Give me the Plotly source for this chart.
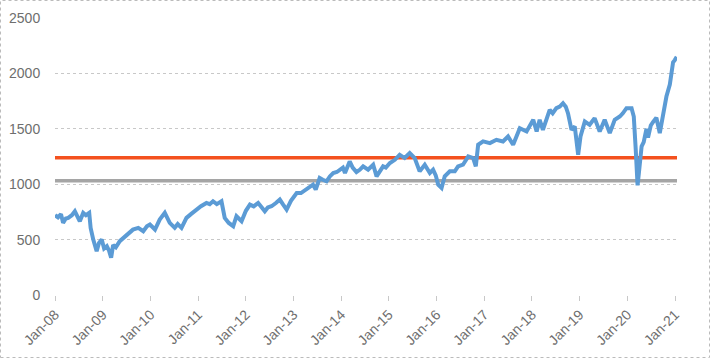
import plotly.graph_objects as go

dates = [
    "2008-01-01", "2008-01-24", "2008-02-16", "2008-03-03", "2008-03-24", "2008-04-11",
    "2008-05-09", "2008-06-01", "2008-06-24", "2008-07-09", "2008-08-04", "2008-08-25",
    "2008-09-19", "2008-09-30", "2008-10-20", "2008-11-02", "2008-11-15", "2008-12-03",
    "2008-12-24", "2009-01-11", "2009-02-01", "2009-02-18", "2009-03-06", "2009-03-21",
    "2009-04-11", "2009-05-11", "2009-06-11", "2009-07-14", "2009-08-20", "2009-09-30",
    "2009-11-07", "2009-12-05", "2009-12-28", "2010-02-05", "2010-03-13", "2010-04-21",
    "2010-05-29", "2010-07-06", "2010-07-29", "2010-08-27", "2010-10-04", "2010-11-07",
    "2010-12-20", "2011-01-23", "2011-03-06", "2011-03-31", "2011-04-25", "2011-05-24",
    "2011-06-29", "2011-07-24", "2011-08-24", "2011-09-27", "2011-10-22", "2011-11-30",
    "2012-01-02", "2012-02-02", "2012-03-02", "2012-04-05", "2012-05-03", "2012-05-26",
    "2012-06-18", "2012-07-16", "2012-08-19", "2012-09-18", "2012-10-11", "2012-11-09",
    "2012-12-12", "2013-01-25", "2013-02-27", "2013-04-10", "2013-05-05", "2013-05-30",
    "2013-06-20", "2013-07-20", "2013-08-13", "2013-09-11", "2013-10-06", "2013-11-01",
    "2013-11-29", "2013-12-22", "2014-01-14", "2014-01-30", "2014-02-21", "2014-03-07",
    "2014-03-30", "2014-04-28", "2014-05-23", "2014-06-18", "2014-07-26", "2014-09-03",
    "2014-09-29", "2014-10-24", "2014-11-18", "2014-12-09", "2015-01-09", "2015-02-16",
    "2015-03-25", "2015-05-02", "2015-06-10", "2015-07-18", "2015-08-25", "2015-10-03",
    "2015-11-11", "2015-12-06", "2015-12-26", "2016-01-14", "2016-02-09", "2016-03-04",
    "2016-04-12", "2016-05-20", "2016-06-14", "2016-07-22", "2016-08-31", "2016-10-08",
    "2016-10-28", "2016-11-15", "2016-12-23", "2017-02-13", "2017-04-04", "2017-05-24",
    "2017-07-02", "2017-08-10", "2017-09-08", "2017-09-30", "2017-11-21", "2018-01-11",
    "2018-02-06", "2018-03-01", "2018-03-26", "2018-04-24", "2018-05-17", "2018-06-09",
    "2018-07-07", "2018-08-02", "2018-08-27", "2018-09-17", "2018-10-04", "2018-10-31",
    "2018-11-25", "2018-12-21", "2019-01-08", "2019-02-10", "2019-03-19", "2019-04-26",
    "2019-06-04", "2019-07-12", "2019-08-20", "2019-09-27", "2019-11-05", "2019-11-28",
    "2019-12-26", "2020-02-03", "2020-02-20", "2020-03-06", "2020-03-20", "2020-03-30",
    "2020-04-08", "2020-04-20", "2020-05-06", "2020-05-27", "2020-06-08", "2020-06-29",
    "2020-07-16", "2020-08-11", "2020-09-06", "2020-10-01", "2020-10-27", "2020-11-22",
    "2020-12-17", "2020-12-30", "2021-01-14",
]

index_values = [
    720, 700, 730, 651, 690, 696,
    720, 756, 700, 666, 741, 720,
    741, 606, 500, 430, 396, 470,
    500, 420, 441, 400, 336, 450,
    430, 486, 520, 561, 590, 606,
    576, 620, 636, 591, 680, 741,
    651, 606, 640, 606, 696, 730,
    771, 801, 831, 820, 846, 820,
    846, 696, 650, 621, 711, 666,
    760, 816, 800, 831, 790, 756,
    790, 801, 830, 861, 820, 771,
    850, 921, 920, 951, 970, 996,
    951, 1056, 1040, 1026, 1070, 1101,
    1110, 1131, 1150, 1101, 1160, 1206,
    1150, 1110, 1130, 1161, 1131, 1176,
    1071, 1120, 1161, 1150, 1191, 1220,
    1266, 1236, 1281, 1236, 1116, 1176,
    1101, 1131, 1080, 996, 966, 1071,
    1116, 1116, 1161, 1176, 1251, 1236,
    1161, 1356, 1386, 1371, 1401, 1386,
    1431, 1356, 1440, 1506, 1476, 1581,
    1476, 1581, 1491, 1600, 1671, 1640,
    1686, 1700, 1731, 1700, 1641, 1491,
    1521, 1266, 1431, 1566, 1536, 1596,
    1476, 1581, 1461, 1581, 1611, 1640,
    1686, 1686, 1611, 1311, 990, 1100,
    1251, 1341, 1380, 1500, 1420, 1530,
    1560, 1600, 1461, 1641, 1791, 1900,
    2100, 2120, 2150,
]

line_dates = ["2008-01-01", "2021-01-16"]
upper_level = [1239, 1239]
lower_level = [1032, 1032]

y_ticks = [0, 500, 1000, 1500, 2000, 2500]

fig = go.Figure()
fig.add_trace(go.Scatter(x=line_dates, y=lower_level, mode="lines",
                         line=dict(color="#A5A5A5", width=3.5), hoverinfo="skip"))
fig.add_trace(go.Scatter(x=line_dates, y=upper_level, mode="lines",
                         line=dict(color="#F4511E", width=3.5), hoverinfo="skip"))
fig.add_trace(go.Scatter(x=dates, y=index_values, mode="lines",
                         line=dict(color="#5B9BD5", width=4)))

W, H = 710, 358
L, R, T, B = 55, 33, 18, 63
pw, ph = W - L - R, H - T - B

fig.update_layout(
    width=W, height=H,
    margin=dict(l=L, r=R, t=T, b=B),
    paper_bgcolor="white", plot_bgcolor="white",
    showlegend=False,
    font=dict(family="Liberation Sans", size=14, color="#6E6E6E"),
    xaxis=dict(
        type="date", range=["2008-01-01", "2021-01-16"],
        tick0="2008-01-01", dtick="M12", tickformat="%b-%y",
        tickangle=-45, showgrid=False, zeroline=False,
        ticks="outside", ticklen=5, tickcolor="#C8C8C8",
        showline=False, automargin=False,
    ),
    yaxis=dict(
        range=[0, 2500], tickvals=y_ticks,
        showgrid=True, gridcolor="#C8C8C8", griddash="dot", gridwidth=1,
        zeroline=False, showline=False, automargin=False,
        ticks="outside", ticklen=11, tickcolor="rgba(0,0,0,0)",
    ),
    shapes=[dict(
        type="rect", xref="paper", yref="paper",
        x0=(0.5 - L) / pw, x1=(W - 0.5 - L) / pw,
        y0=-(B - 0.5) / ph, y1=1 + (T - 0.5) / ph,
        line=dict(color="#BBBBBB", width=1, dash="dot"),
        fillcolor="rgba(0,0,0,0)", layer="below",
    )],
)

fig.write_html(
    "out.html",
    config={"displayModeBar": False},
    post_script="document.body.style.margin='0';document.body.style.overflow='hidden';",
)
